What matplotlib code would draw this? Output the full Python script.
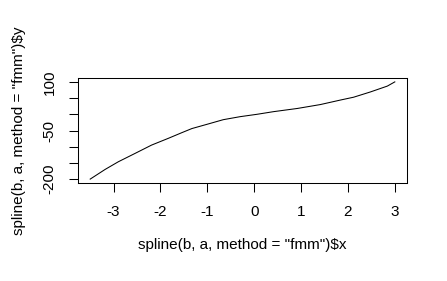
import matplotlib
matplotlib.use("Agg")
import matplotlib.pyplot as plt

# Values
x_vals = [-3.50, -3.18, -2.90, -2.54, -2.19, -1.83, -1.55, -1.33, -1.01, -0.66,
          -0.30, 0.06, 0.41, 0.92, 1.41, 1.84, 2.12, 2.48, 2.84, 3.00]
y_vals = [-200, -170, -146.5, -120.5, -95, -74, -57, -44, -31, -16.6,
          -7.3, 0, 8.1, 18, 30, 44, 52.7, 69, 87, 100]

x_ticks = [-3, -2, -1, 0, 1, 2, 3]
x_tick_labels = ["-3", "-2", "-1", "0", "1", "2", "3"]
y_ticks = [-200, -150, -100, -50, 0, 50, 100]
y_tick_labels = ["-200", "", "", "-50", "", "", "100"]

plt.rcParams['font.family'] = ['Liberation Sans', 'DejaVu Sans']
fs = 11

fig = plt.figure(figsize=(4.47, 2.81), dpi=100)
ax = fig.add_axes([78/447, 1-183/281, (407-78)/447, (183-78)/281])
ax.plot(x_vals, y_vals, color='black', lw=0.75)
ax.set_xlim(-3.76, 3.26)
ax.set_ylim(-212, 112)
ax.set_xticks(x_ticks)
ax.set_xticklabels(x_tick_labels, fontsize=fs)
ax.set_yticks(y_ticks)
ax.set_yticklabels(y_tick_labels, fontsize=fs, rotation=90, va='center')
ax.tick_params(axis='both', direction='out', length=6.5, width=0.75, color='black')
ax.tick_params(axis='x', pad=9)
ax.tick_params(axis='y', pad=9)
for s in ax.spines.values():
    s.set_linewidth(0.75)
ax.set_xlabel('spline(b, a, method = "fmm")$x', fontsize=fs, labelpad=14)
ax.set_ylabel('spline(b, a, method = "fmm")$y', fontsize=fs, labelpad=12)
fig.savefig('out.png', dpi=100)
